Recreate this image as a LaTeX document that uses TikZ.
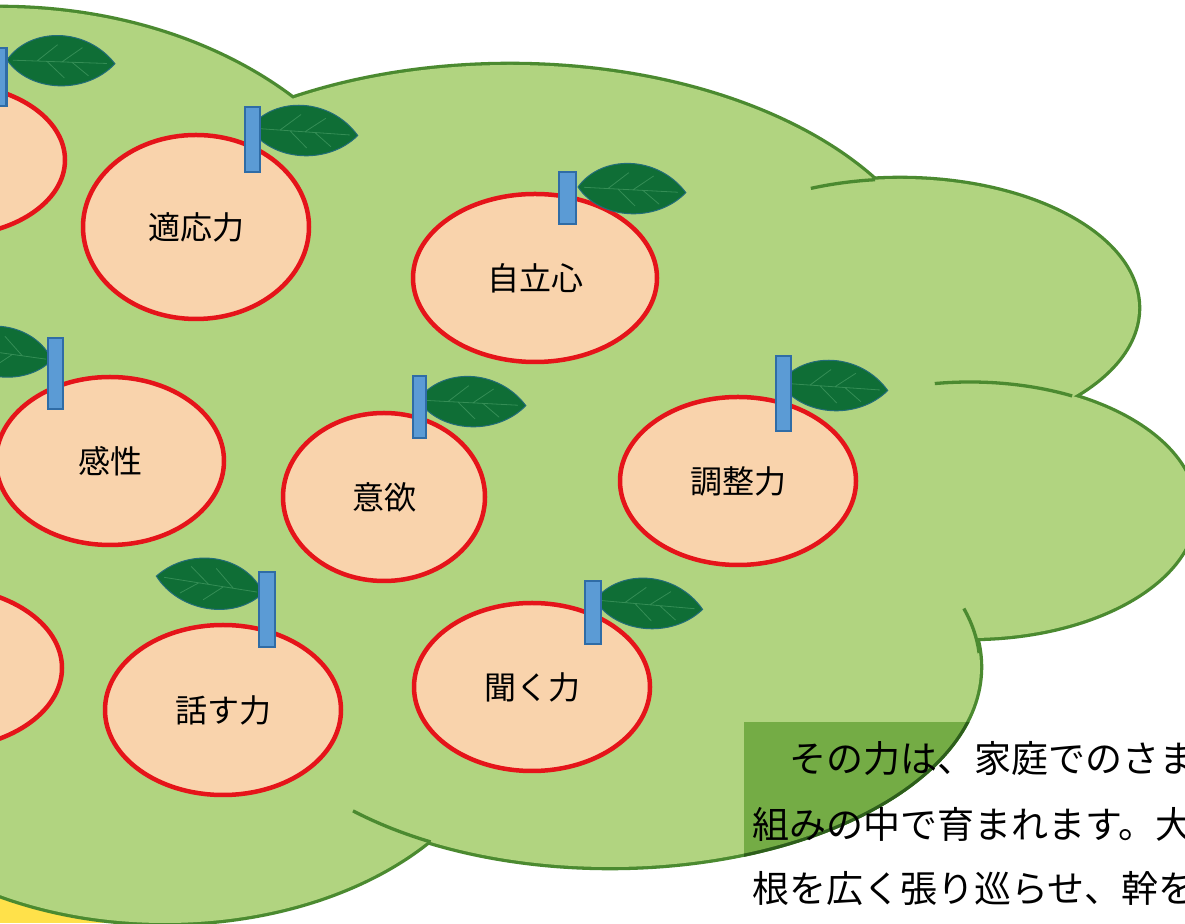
\documentclass[tikz,border=0pt]{standalone}
\usepackage{fontspec}
\setmainfont{Noto Sans CJK JP}
\usetikzlibrary{shapes.geometric}

\definecolor{cloudfill}{HTML}{B1D480}
\definecolor{cloudedge}{HTML}{4B8A30}
\definecolor{boxfill}{HTML}{74AC45}
\definecolor{boxedge}{HTML}{2D5E1B}
\definecolor{applefill}{HTML}{F9D3AC}
\definecolor{appleedge}{HTML}{E5141A}
\definecolor{stemfill}{HTML}{5B9BD5}
\definecolor{stemedge}{HTML}{2F6CA6}
\definecolor{leaffill}{HTML}{0F6E36}
\definecolor{leafvein}{HTML}{4DA36B}
\definecolor{ground}{HTML}{FFE14A}

\tikzset{
  lobe/.style={draw=cloudedge, line width=6.6pt},
  innerarc/.style={draw=cloudedge, line width=3.3pt},
  apple/.style={ellipse, draw=appleedge, fill=applefill, line width=4.5pt,
    inner sep=0pt, font=\fontsize{32}{36}\selectfont},
  stem/.style={rectangle, draw=stemedge, fill=stemfill, line width=2.5pt, inner sep=0pt},
  bodytext/.style={anchor=base west, inner sep=0pt, font=\fontsize{37}{40}\selectfont},
  leaf/.pic={
    \fill[leaffill, draw=stemedge!60!leaffill, line width=1pt]
      (0,0) .. controls (22,34) and (78,36) .. (108,0)
            .. controls (80,-32) and (24,-32) .. (0,0) -- cycle;
    \draw[leafvein, line width=0.8pt, opacity=.6]
      (6,0) -- (100,0)
      (30,0) -- (50,17) (55,0) -- (75,15)
      (40,0) -- (58,-16) (65,0) -- (82,-13);
  }
}

% lobes of the tree crown: x/y of centre, x radius, y radius
\def\lobes{0/623/404/292, 510/608/433/250, 900/615/238/129,
  970/413/225/128, 610/256/370/200, 165/223/340/223}

\begin{document}
\begin{tikzpicture}[x=1pt,y=1pt]
\useasboundingbox (0,0) rectangle (1185,923);
\clip (0,0) rectangle (1185,923);
\fill[white] (0,0) rectangle (1185,923);
\fill[ground] (0,0) rectangle (150,73);

% crown: outlines first, fills on top keep only the outer edge
\foreach \cx/\cy/\rx/\ry in \lobes
  \draw[lobe] (\cx,\cy) ellipse [x radius=\rx, y radius=\ry];
\foreach \cx/\cy/\rx/\ry in \lobes
  \fill[cloudfill] (\cx,\cy) ellipse [x radius=\rx, y radius=\ry];
\fill[cloudfill] (0,623) -- (510,608) -- (900,615) -- (970,413)
  -- (610,256) -- (165,223) -- cycle;

% short curves inside the crown
\draw[innerarc, shift={(900,615)}] (112:238 and 129)
  arc[start angle=112, end angle=96, x radius=238, y radius=129];
\draw[innerarc, shift={(970,413)}] (99:225 and 128)
  arc[start angle=99, end angle=63, x radius=225, y radius=128];
\draw[innerarc, shift={(610,256)}] (17:370 and 200)
  arc[start angle=17, end angle=4, x radius=370, y radius=200];
\draw[innerarc, shift={(610,256)}] (226:370 and 200)
  arc[start angle=226, end angle=241, x radius=370, y radius=200];

% text box shading over the crown
\begin{scope}
  \clip (744,200) rectangle (1185,0);
  \draw[lobe, draw=boxedge] (610,256) ellipse [x radius=370, y radius=200];
  \fill[boxfill] (610,256) ellipse [x radius=370, y radius=200];
\end{scope}

% apples
\node[apple, minimum width=230, minimum height=152] (appleA) at (-50,763) {};
\node[apple, minimum width=226, minimum height=184] (tekiou) at (196,696) {適応力};
\node[apple, minimum width=244, minimum height=168] (jiritsu) at (535,645) {自立心};
\node[apple, minimum width=228, minimum height=168] (kansei) at (110,462) {感性};
\node[apple, minimum width=202, minimum height=168] (iyoku) at (384,426) {意欲};
\node[apple, minimum width=236, minimum height=168] (chousei) at (738,442) {調整力};
\node[apple, minimum width=244, minimum height=162] (appleB) at (-60,255) {};
\node[apple, minimum width=236, minimum height=170] (hanasu) at (223,213) {話す力};
\node[apple, minimum width=236, minimum height=168] (kiku) at (532,236) {聞く力};

% leaves
\pic[rotate=-2] at (7,863) {leaf};
\pic[rotate=-4] at (250,795) {leaf};
\pic[rotate=-3] at (578,736) {leaf};
\pic[rotate=172, yscale=-1] at (52,563) {leaf};
\pic[rotate=-3] at (418,523) {leaf};
\pic[rotate=-4] at (780,540) {leaf};
\pic[rotate=171, yscale=-1] at (263,330) {leaf};
\pic[rotate=-5] at (595,323) {leaf};

% stems
\node[stem, minimum width=15, minimum height=58] (stemA) at (-1,846) {};
\node[stem, minimum width=15, minimum height=65] (stemTekiou) at (252.5,783.5) {};
\node[stem, minimum width=17, minimum height=52] (stemJiritsu) at (567.5,725) {};
\node[stem, minimum width=15, minimum height=71] (stemKansei) at (55.5,549.5) {};
\node[stem, minimum width=13, minimum height=62] (stemIyoku) at (419.5,516) {};
\node[stem, minimum width=15, minimum height=75] (stemChousei) at (783.5,529.5) {};
\node[stem, minimum width=16, minimum height=75] (stemHanasu) at (267,313.5) {};
\node[stem, minimum width=16, minimum height=63] (stemKiku) at (593,310.5) {};

% text box
\node[bodytext] (line1) at (752,150) {　その力は、家庭でのさま};
\node[bodytext] (line2) at (752,84) {組みの中で育まれます。大};
\node[bodytext] (line3) at (752,20) {根を広く張り巡らせ、幹を};
\end{tikzpicture}
\end{document}
